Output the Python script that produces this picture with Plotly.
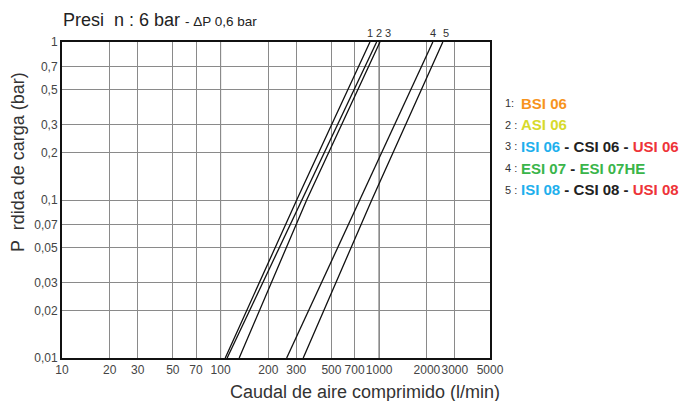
import math
import plotly.graph_objects as go

# Pressure drop levels (bar) at which the flow was read for each curve
dp_levels = [0.01, 0.1, 1.0]
# Flow (l/min) for each curve at those pressure drops
curve_1 = [107, 302, 875]
curve_2 = [110, 325, 964]
curve_3 = [131, 349, 1012]
curve_4 = [261, 757, 2180]
curve_5 = [332, 898, 2520]
curves = [curve_1, curve_2, curve_3, curve_4, curve_5]
curve_names = ["1", "2", "3", "4", "5"]
top_label_x = [870, 1000, 1140, 2200, 2630]

x_ticks = [10, 20, 30, 50, 70, 100, 200, 300, 500, 700, 1000, 2000, 3000, 5000]
x_ticktext = [str(v) for v in x_ticks]
y_ticks = [0.01, 0.02, 0.03, 0.05, 0.07, 0.1, 0.2, 0.3, 0.5, 0.7, 1]
y_ticktext = ["0,01", "0,02", "0,03", "0,05", "0,07", "0,1", "0,2", "0,3", "0,5", "0,7", "1"]
dark_grid = [100, 1000]

legend_nums = ["1:", "2 :", "3 :", "4 :", "5 :"]
legend_items = [
    [("BSI 06", "#f7941d")],
    [("ASI 06", "#d7da2b")],
    [("ISI 06", "#1eb0ed"), (" - ", "#222222"), ("CSI 06", "#222222"), (" - ", "#222222"), ("USI 06", "#ee3338")],
    [("ESI 07", "#3ab54a"), (" - ", "#222222"), ("ESI 07HE", "#3ab54a")],
    [("ISI 08", "#1eb0ed"), (" - ", "#222222"), ("CSI 08", "#222222"), (" - ", "#222222"), ("USI 08", "#ee3338")],
]

fig = go.Figure()
for name, flows in zip(curve_names, curves):
    fig.add_trace(go.Scatter(x=flows, y=dp_levels, mode="lines", name=name,
                             line=dict(color="#111111", width=1.3), showlegend=False))

for xv in dark_grid:
    fig.add_shape(type="line", xref="x", yref="paper", x0=xv, x1=xv, y0=0, y1=1,
                  line=dict(color="#222222", width=1), layer="below")

tick_font = dict(family="Liberation Sans, Arial, sans-serif", size=12, color="#444444")

fig.update_layout(
    width=681, height=393,
    margin=dict(l=54, r=199, t=34, b=43),
    paper_bgcolor="white", plot_bgcolor="white",
    font=dict(family="Liberation Sans, Arial, sans-serif", color="#333333"),
    xaxis=dict(type="log", range=[1, 3.69897], tickvals=x_ticks, ticktext=x_ticktext,
               showgrid=True, gridcolor="#8a8a8a", gridwidth=1, tickangle=0,
               showline=True, linecolor="#111111", linewidth=2, mirror=True,
               ticks="", tickfont=tick_font, zeroline=False, automargin=False),
    yaxis=dict(type="log", range=[-2, 0], tickvals=y_ticks, ticktext=y_ticktext,
               showgrid=True, gridcolor="#8a8a8a", gridwidth=1,
               showline=True, linecolor="#111111", linewidth=2, mirror=True,
               ticks="", tickfont=tick_font, zeroline=False, automargin=False),
)

# Title
fig.add_annotation(xref="paper", yref="paper", x=-0.002, y=1, xanchor="left", yanchor="middle",
                   yshift=22, showarrow=False,
                   text="Presi  n : 6 bar <span style='font-size:13.5px'>- \u0394P 0,6 bar</span>",
                   font=dict(size=18, color="#222222"))
# Y axis title
fig.add_annotation(xref="paper", yref="paper", x=-0.103, y=0.62, xanchor="center", yanchor="middle",
                   textangle=-90, showarrow=False,
                   text="P  rdida de carga (bar)", font=dict(size=18, color="#333333"))
# X axis title
fig.add_annotation(xref="paper", yref="paper", x=0.707, y=0, xanchor="center", yanchor="middle",
                   yshift=-34, showarrow=False,
                   text="Caudal de aire comprimido (l/min)",
                   font=dict(size=18, color="#333333"))
# Curve labels above plot
for name, xv in zip(curve_names, top_label_x):
    fig.add_annotation(xref="x", yref="paper", x=math.log10(xv), y=1,
                       xanchor="center", yanchor="middle", showarrow=False, yshift=9,
                       text=name, font=dict(size=11, color="#333333"))

# Legend text at right
for i, (num, parts) in enumerate(zip(legend_nums, legend_items)):
    ypix = 103 + i * 21.7
    yp = 1 - (ypix - 42) / 316
    fig.add_annotation(xref="paper", yref="paper", x=1.03, y=yp, xanchor="left", yanchor="middle",
                       showarrow=False, text=num, font=dict(size=11, color="#333333"))
    txt = "".join(f"<span style='color:{c}'>{t}</span>" for t, c in parts)
    fig.add_annotation(xref="paper", yref="paper", x=1.067, y=yp, xanchor="left", yanchor="middle",
                       showarrow=False, text=f"<b>{txt}</b>", font=dict(size=15, color="#222222"))

fig.write_html("out.html")
